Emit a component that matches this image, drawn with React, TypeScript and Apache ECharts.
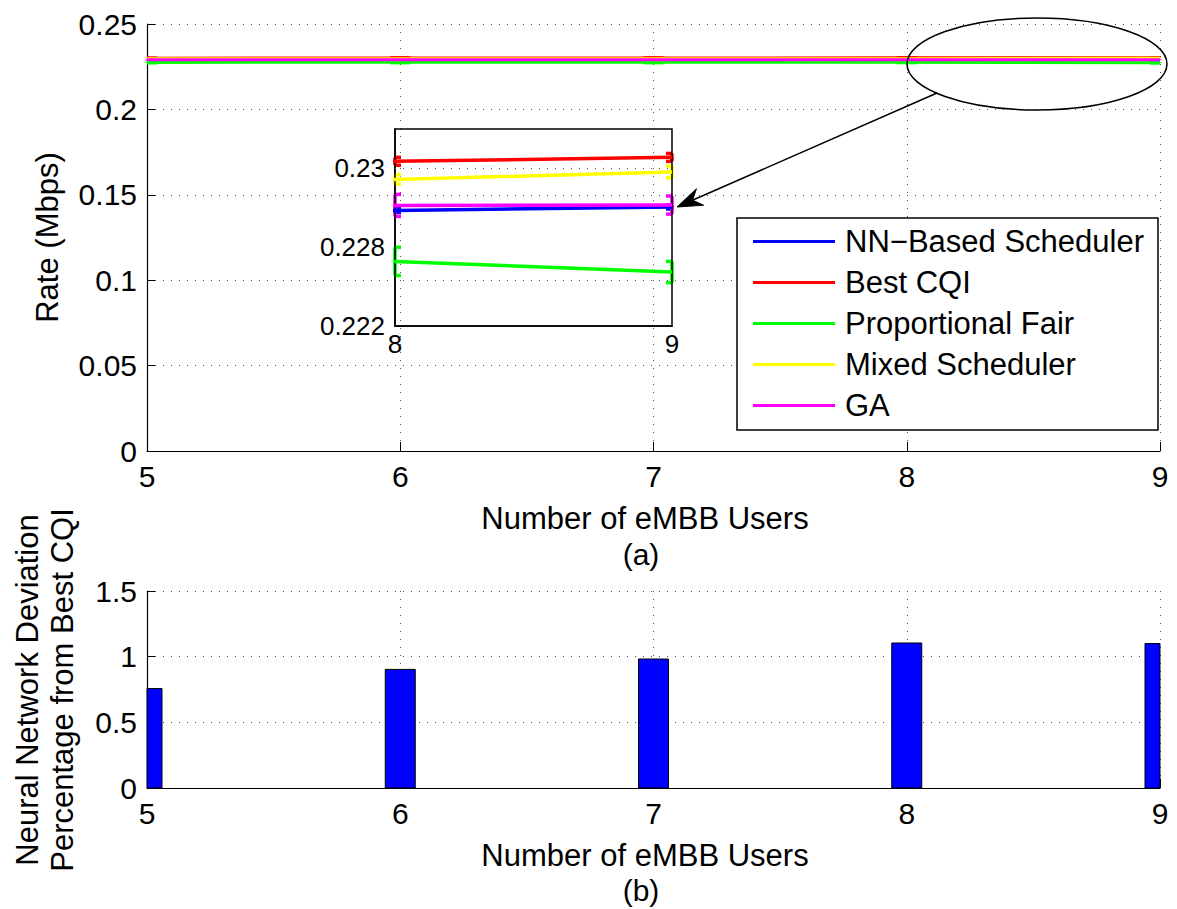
import React, { useEffect, useRef } from "react";
import * as echarts from "echarts";

const FONT = "'Liberation Sans', Arial, Helvetica, sans-serif";

// Number of eMBB users (x axis)
const users = [5, 6, 7, 8, 9];

// Rates (Mbps)
const nnRate = [0.2288, 0.2289, 0.2289, 0.22893, 0.22902];
const bestCqiRate = [0.23, 0.2301, 0.2301, 0.23018, 0.23028];
const pfRate = [0.2275, 0.2276, 0.2276, 0.22764, 0.22737];
const mixedRate = [0.2296, 0.2296, 0.2297, 0.22972, 0.22991];
const gaRate = [0.229, 0.229, 0.2291, 0.22906, 0.22907];

// Error bar half-heights
const nnErr = [0.00005, 0.00005, 0.00005, 0.00005, 0.00005];
const bestCqiErr = [0.0001, 0.0001, 0.0001, 0.0001, 0.0001];
const pfErr = [0.00035, 0.00035, 0.00035, 0.00036, 0.00027];
const mixedErr = [0.00012, 0.00012, 0.00012, 0.00012, 0.00015];
const gaErr = [0.0003, 0.0003, 0.0003, 0.00028, 0.00023];

// Deviation of NN from Best CQI (%)
const deviationPct = [0.757, 0.903, 0.982, 1.104, 1.1];

// Inset axis labels (as printed in the figure)
const insetTickValues = [0.226, 0.228, 0.23];
const insetTickLabels = ["0.222", "0.228", "0.23"];
const insetGridValues = [0.227, 0.228, 0.23];

const seriesDefs = [
  { name: "NN\u2212Based Scheduler", color: "#0000ff", values: nnRate, err: nnErr },
  { name: "Best CQI", color: "#ff0000", values: bestCqiRate, err: bestCqiErr },
  { name: "Proportional Fair", color: "#00ff00", values: pfRate, err: pfErr },
  { name: "Mixed Scheduler", color: "#ffff00", values: mixedRate, err: mixedErr },
  { name: "GA", color: "#ff00ff", values: gaRate, err: gaErr },
];

const gridLine = { color: "#555", type: [1, 7] as any, width: 1 };

function baseXAxis(gridIndex: number) {
  return {
    gridIndex,
    type: "value",
    min: 5,
    max: 9,
    interval: 1,
    axisLine: { show: true, onZero: false, lineStyle: { color: "#000", width: 1.2 } },
    axisTick: { show: true, inside: true, length: 9, lineStyle: { color: "#000", width: 1 } },
    axisLabel: { fontSize: 30, fontFamily: FONT, color: "#000", margin: 10 },
    splitLine: { show: true, lineStyle: gridLine },
  };
}

function clampX(x: number, cs: any) {
  return Math.max(cs.x, Math.min(cs.x + cs.width, x));
}

function errorSeries(def: any, axisIndex: number, capHalf: number, lw: number) {
  return {
    type: "custom",
    name: "err-" + def.name + "-" + axisIndex,
    xAxisIndex: axisIndex,
    yAxisIndex: axisIndex,
    silent: true,
    encode: { x: 0, y: 1 },
    data: users.map((u, i) => [u, def.values[i], def.err[i]]),
    renderItem: (params: any, api: any) => {
      const cs = params.coordSys;
      const x = api.value(0);
      const y = api.value(1);
      const e = api.value(2);
      const top = api.coord([x, y + e]);
      const bot = api.coord([x, y - e]);
      if (top[0] < cs.x - 0.5 || top[0] > cs.x + cs.width + 0.5) return null;
      const style = { stroke: def.color, lineWidth: lw };
      const l = clampX(top[0] - capHalf, cs);
      const r = clampX(top[0] + capHalf, cs);
      return {
        type: "group",
        children: [
          { type: "line", shape: { x1: top[0], y1: top[1], x2: bot[0], y2: bot[1] }, style },
          { type: "line", shape: { x1: l, y1: top[1], x2: r, y2: top[1] }, style },
          { type: "line", shape: { x1: l, y1: bot[1], x2: r, y2: bot[1] }, style },
        ],
      };
    },
  };
}

export default function App() {
  const ref = useRef<HTMLDivElement>(null);

  useEffect(() => {
    if (!ref.current) return;
    const chart = echarts.init(ref.current, null, { renderer: "svg" });

    const series: any[] = [];
    seriesDefs.forEach((def) => {
      series.push({
        type: "line",
        name: def.name,
        xAxisIndex: 0,
        yAxisIndex: 0,
        data: users.map((u, i) => [u, def.values[i]]),
        symbol: "none",
        clip: true,
        lineStyle: { color: def.color, width: 3 },
        itemStyle: { color: def.color },
      });
      series.push(errorSeries(def, 0, 10, 3));
    });
    seriesDefs.forEach((def, k) => {
      const s: any = {
        type: "line",
        name: def.name,
        xAxisIndex: 1,
        yAxisIndex: 1,
        data: users.map((u, i) => [u, def.values[i]]),
        symbol: "none",
        clip: true,
        lineStyle: { color: def.color, width: 3.5 },
        itemStyle: { color: def.color },
      };
      if (k === 0) {
        s.markLine = {
          silent: true,
          symbol: "none",
          label: { show: false },
          lineStyle: gridLine,
          data: insetGridValues.map((v) => ({ yAxis: v })),
        };
      }
      series.push(s);
      series.push(errorSeries(def, 1, 6, 3.5));
    });
    series.push({
      type: "custom",
      name: "Deviation",
      xAxisIndex: 2,
      yAxisIndex: 2,
      encode: { x: 0, y: 1 },
      data: users.map((u, i) => [u, deviationPct[i]]),
      renderItem: (params: any, api: any) => {
        const cs = params.coordSys;
        const x = api.value(0);
        const v = api.value(1);
        const p0 = api.coord([x, 0]);
        const p1 = api.coord([x, v]);
        const w = 30;
        const rect = echarts.graphic.clipRectByRect(
          { x: p0[0] - w / 2, y: p1[1], width: w, height: p0[1] - p1[1] },
          { x: cs.x, y: cs.y, width: cs.width, height: cs.height }
        );
        if (!rect) return null;
        return {
          type: "rect",
          shape: rect,
          style: { fill: "#0000ff", stroke: "#000", lineWidth: 1 },
        };
      },
    });

    const textStyle = (text: string, size: number) => ({
      text,
      fontSize: size,
      fontFamily: FONT,
      fill: "#000",
      align: "center",
      verticalAlign: "middle",
    });

    chart.setOption({
      animation: false,
      backgroundColor: "#ffffff",
      grid: [
        { left: 147, top: 24, width: 1013, height: 427, containLabel: false },
        {
          left: 395,
          top: 129,
          width: 277,
          height: 197,
          show: true,
          borderColor: "#000",
          borderWidth: 1.5,
          backgroundColor: "transparent",
          z: 3,
        },
        { left: 147, top: 591, width: 1013, height: 197 },
      ],
      xAxis: [
        baseXAxis(0),
        {
          gridIndex: 1,
          type: "value",
          min: 8,
          max: 9,
          interval: 1,
          axisLine: { show: true, onZero: false, lineStyle: { color: "#000", width: 1.5 } },
          axisTick: { show: false },
          axisLabel: { fontSize: 26, fontFamily: FONT, color: "#000", margin: 5 },
          splitLine: { show: false },
        },
        baseXAxis(2),
      ],
      yAxis: [
        {
          gridIndex: 0,
          type: "value",
          min: 0,
          max: 0.25,
          interval: 0.05,
          axisLine: { show: true, onZero: false, lineStyle: { color: "#000", width: 1.2 } },
          axisTick: { show: true, inside: true, length: 8, lineStyle: { color: "#000", width: 1 } },
          axisLabel: {
            fontSize: 30,
            fontFamily: FONT,
            color: "#000",
            margin: 10,
            formatter: (v: number) => String(parseFloat(v.toFixed(3))),
          },
          splitLine: { show: true, lineStyle: gridLine },
        },
        {
          gridIndex: 1,
          type: "value",
          min: 0.226,
          max: 0.231,
          axisLine: { show: true, onZero: false, lineStyle: { color: "#000", width: 1.5 } },
          axisTick: { show: false },
          axisLabel: {
            fontSize: 26,
            fontFamily: FONT,
            color: "#000",
            margin: 10,
            customValues: insetTickValues,
            formatter: (v: number) => {
              const i = insetTickValues.findIndex((t) => Math.abs(t - v) < 1e-7);
              return i >= 0 ? insetTickLabels[i] : "";
            },
          },
          splitLine: { show: false },
        },
        {
          gridIndex: 2,
          type: "value",
          min: 0,
          max: 1.5,
          interval: 0.5,
          axisLine: { show: true, onZero: false, lineStyle: { color: "#000", width: 1.2 } },
          axisTick: { show: true, inside: true, length: 8, lineStyle: { color: "#000", width: 1 } },
          axisLabel: {
            fontSize: 30,
            fontFamily: FONT,
            color: "#000",
            margin: 10,
            formatter: (v: number) => String(parseFloat(v.toFixed(2))),
          },
          splitLine: { show: true, lineStyle: gridLine },
        },
      ],
      legend: {
        data: seriesDefs.map((d) => d.name),
        orient: "vertical",
        left: 737,
        top: 218,
        padding: [3, 14, 4, 16],
        itemGap: 0,
        itemWidth: 82,
        itemHeight: 3,
        icon: "rect",
        backgroundColor: "#fff",
        borderColor: "#000",
        borderWidth: 1.5,
        selectedMode: false,
        textStyle: {
          fontSize: 31,
          fontFamily: FONT,
          color: "#000",
          lineHeight: 41,
          padding: [0, 0, 0, 5],
        },
      },
      graphic: [
        { type: "text", x: 47, y: 237.5, rotation: Math.PI / 2, style: textStyle("Rate (Mbps)", 31) },
        { type: "text", x: 645, y: 518, style: textStyle("Number of eMBB Users", 31) },
        { type: "text", x: 641, y: 554, style: textStyle("(a)", 30) },
        { type: "text", x: 27, y: 690, rotation: Math.PI / 2, style: textStyle("Neural Network Deviation", 31) },
        { type: "text", x: 62, y: 690, rotation: Math.PI / 2, style: textStyle("Percentage from Best CQI", 31) },
        { type: "text", x: 645, y: 855, style: textStyle("Number of eMBB Users", 31) },
        { type: "text", x: 641, y: 890, style: textStyle("(b)", 30) },
        {
          type: "ellipse",
          shape: { cx: 1037, cy: 64, rx: 130, ry: 46 },
          style: { fill: "none", stroke: "#000", lineWidth: 1.5 },
          z: 100,
        },
        {
          type: "line",
          shape: { x1: 937, y1: 93, x2: 693, y2: 200 },
          style: { stroke: "#000", lineWidth: 1.5 },
          z: 100,
        },
        {
          type: "polygon",
          shape: { points: [[677, 207], [696.4, 188.8], [692.6, 200.2], [703.6, 205.2]] },
          style: { fill: "#000", stroke: "#000", lineWidth: 1 },
          z: 100,
        },
      ],
      series,
    });

    return () => chart.dispose();
  }, []);

  return (
    <div
      ref={ref}
      style={{ position: "absolute", left: 0, top: 0, width: 1177, height: 909, background: "#fff" }}
    />
  );
}
